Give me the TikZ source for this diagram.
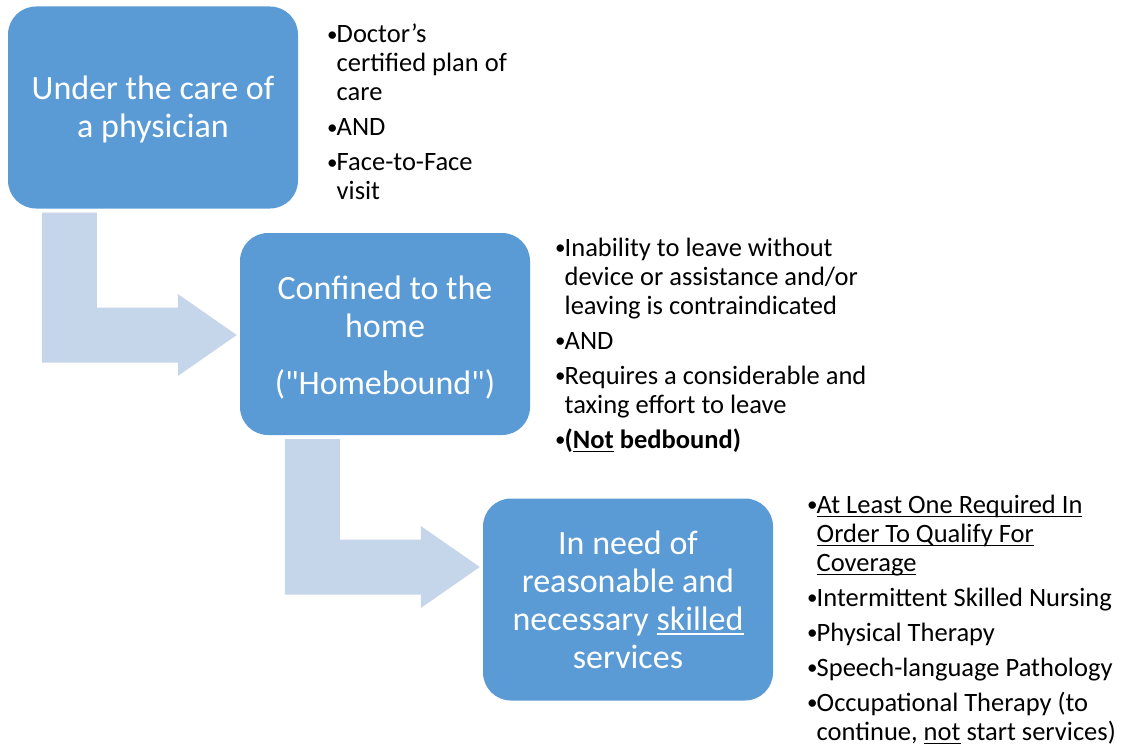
\documentclass[tikz,border=0pt]{standalone}
\usepackage{fontspec}
\setmainfont{Carlito}
\usetikzlibrary{calc}

\definecolor{boxblue}{HTML}{5B9BD5}
\definecolor{arrowblue}{RGB}{197,213,234}

\newsavebox{\ulbox}
\newcommand{\uln}[1]{\sbox{\ulbox}{#1}\rlap{\rule[-4.4pt]{\wd\ulbox}{1.5pt}}\usebox{\ulbox}}
\newcommand{\bul}{\makebox[10.5pt][l]{\hspace{1pt}\raisebox{1.8pt}{\fontsize{21}{21}\selectfont •}}}
\newcommand{\bpad}{\hspace*{10.5pt}}

\tikzset{
    stage/.style={fill=boxblue, rounded corners=28pt, minimum width=290pt, minimum height=202pt,
        inner sep=0pt, text=white, align=center, font=\fontsize{34}{38}\selectfont},
    notes/.style={anchor=base west, inner sep=0pt, align=left, font=\fontsize{26.5}{29}\selectfont},
    bentarr/.style={fill=arrowblue}
}

\begin{document}
\begin{tikzpicture}[x=1pt,y=-1pt]
    \useasboundingbox (0,0) rectangle (1123,746);
    % the three steps
    \node[stage] (care) at (153,107.5) {\rule{0pt}{28pt}Under the care of\\a physician};
    \node[stage] (home) at (385,334) {\rule{0pt}{30pt}Confined to the\\home\\[19pt](\textquotedbl Homebound\textquotedbl)};
    \node[stage] (skill) at (628,599.5) {In need of\\reasonable and\\necessary \uln{skilled}\\services};
    % bent arrows
    \foreach \src/\dst/\dy in {care/home/1,home/skill/-32.5}
        \fill[bentarr] ($(\dst.west |- \src.south)+(-198,4)$) -- ++(55,0)
            |- ($(\dst.west)+(-62,\dy-27.5)$) -- ++(0,-13.5)
            -- ($(\dst.west)+(-3,\dy)$) -- ++(-59,41) -- ++(0,-13.5)
            -- ($(\dst.west)+(-198,\dy+27.5)$) -- cycle;
    % notes beside each step (anchored at the last line)
    \node[notes] (carenotes) at (326,200) {\bul Doctor's\\\bpad certified plan of\\\bpad care\\[6pt]
        \bul AND\\[6pt]
        \bul Face-to-Face\\\bpad visit};
    \node[notes] (homenotes) at (554,448) {\bul Inability to leave without\\\bpad device or assistance and/or\\\bpad leaving is contraindicated\\[6pt]
        \bul AND\\[6pt]
        \bul Requires a considerable and\\\bpad taxing effort to leave\\[6pt]
        \bul\textbf{(\uln{Not} bedbound)}};
    \node[notes] (skillnotes) at (806,740) {\bul\uln{At Least One Required In}\\\bpad\uln{Order To Qualify For}\\\bpad\uln{Coverage}\\[6pt]
        \bul Intermittent Skilled Nursing\\[6pt]
        \bul Physical Therapy\\[6pt]
        \bul Speech-language Pathology\\[6pt]
        \bul Occupational Therapy (to\\\bpad continue, \uln{not} start services)};
\end{tikzpicture}
\end{document}
